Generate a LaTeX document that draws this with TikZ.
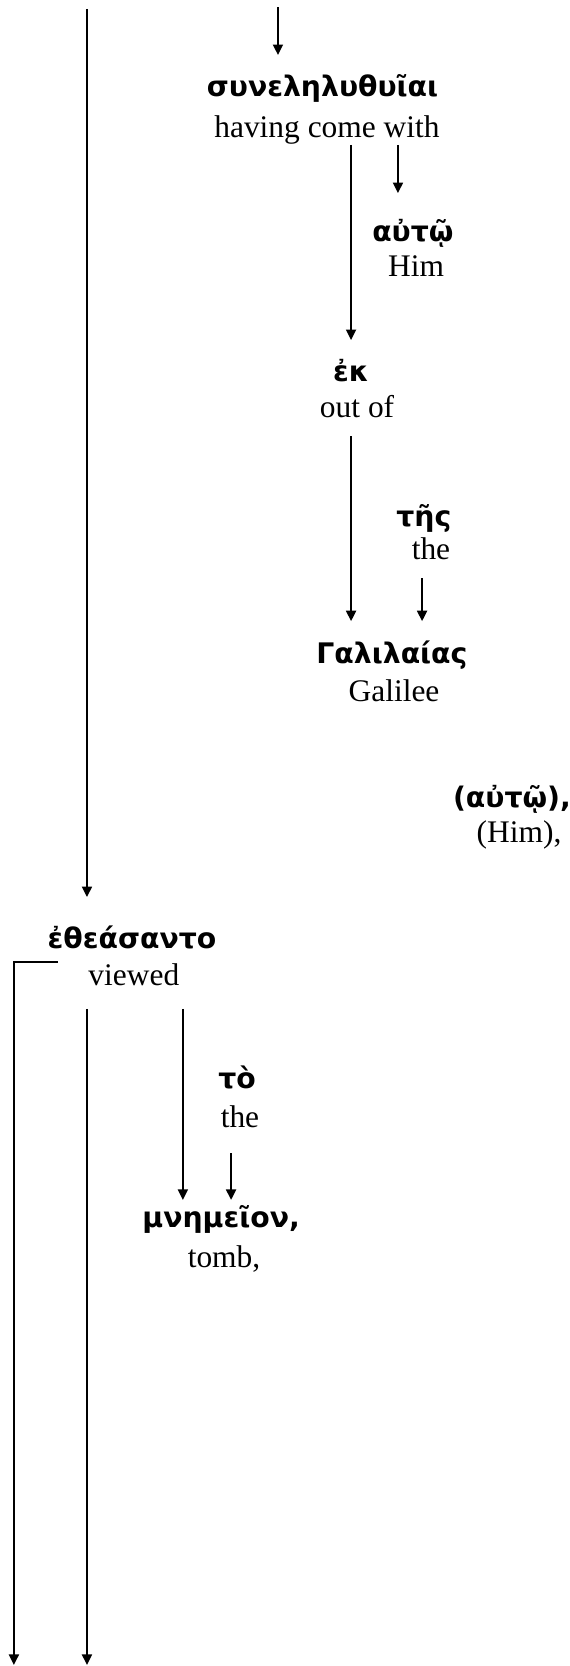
\documentclass[tikz,border=0pt]{standalone}
\usepackage{fontspec}
\setmainfont{Liberation Serif}
\newfontfamily\grkfont{DejaVu Sans}
\usetikzlibrary{arrows.meta, positioning, calc}

\begin{document}
\begin{tikzpicture}[
    x=1pt, y=1pt,
    % General node distance, centre to centre
    node distance=14pt and 0pt, on grid,
    % Styles
    greek/.style={font=\grkfont\bfseries\fontsize{10.8}{13}\selectfont, text height=8pt, text depth=3pt, inner sep=0pt, outer xsep=0pt, outer ysep=8pt},
    gloss/.style={font=\fontsize{12}{14}\selectfont, text height=8pt, text depth=3pt, inner sep=0pt, outer xsep=0pt, outer ysep=4pt},
    arrow/.style={-{Triangle[length=4pt, width=3.8pt]}, line width=0.75pt},
    link/.style={line width=0.75pt}
]
\useasboundingbox (0,0) rectangle (217.2,-635.9);

% --- Participle and its complements ---
\node[greek] (sunel) at (123.1,-34.5) {συνεληλυθυῖαι};
\node[gloss, below right = 15.3pt and 1.7pt of sunel] (sunel_en) {having come with};

\node[greek, below right = 39.7pt and 32.8pt of sunel_en] (aut) {αὐτῷ};
\node[gloss, below right = 13.7pt and 1.2pt of aut] (aut_en) {Him};

\node[greek, below right = 93.5pt and 9.2pt of sunel_en] (ek) {ἐκ};
\node[gloss, below right = 13.7pt and 2.3pt of ek] (ek_en) {out of};

\node[greek, below right = 41.6pt and 25.5pt of ek_en] (tes) {τῆς};
\node[gloss, below right = 12.6pt and 2.7pt of tes] (tes_en) {the};

\node[greek, below right = 93.6pt and 13.3pt of ek_en] (galil) {Γαλιλαίας};
\node[gloss, below right = 14.8pt and 0.8pt of galil] (galil_en) {Galilee};

\node[greek, below right = 40.5pt and 45pt of galil_en] (aut_two) {(αὐτῷ),};
\node[gloss, below right = 13pt and 2.7pt of aut_two] (aut_two_en) {(Him),};

% --- Main verb and its object ---
\node[greek, below left = 325.2pt and 72.7pt of sunel] (etheas) {ἐθεάσαντο};
\node[gloss, below right = 13.8pt and 0.7pt of etheas] (etheas_en) {viewed};

\node[greek, below right = 39.6pt and 39.4pt of etheas_en] (to) {τὸ};
\node[gloss, below right = 14.6pt and 1.1pt of to] (to_en) {the};

\node[greek, below right = 92.7pt and 33.3pt of etheas_en] (mnem) {μνημεῖον,};
\node[gloss, below right = 14.9pt and 1.1pt of mnem] (mnem_en) {tomb,};

% --- Free ends at the top and bottom edges ---
\coordinate (top_in) at (106.1,-2.7);
\coordinate (left_in) at (33.2,-3.4);
\coordinate (bot_far) at (5.3,-635.5);
\coordinate (bot_near) at (33.2,-635.5);

% --- Connectors ---
\draw[arrow] (top_in) -- (top_in |- sunel.north);
\draw[arrow, shorten >=3.8pt] (left_in) -- (left_in |- etheas.north);

\draw[arrow, shorten <=-4pt] (sunel_en.south -| ek.north) -- (ek.north);
\draw[arrow, shorten <=-4pt, shorten >=2.3pt] ($(sunel_en.south)+(27.1pt,0)$) -- ($(aut.north)+(-5.7pt,0)$);

\draw[arrow] ($(ek_en.south)+(-2.3pt,0)$) -- ($(galil.north)+(-15.6pt,0)$);
\draw[arrow] ($(tes_en.south)+(-3.4pt,0)$) -- ($(galil.north)+(11.5pt,0)$);

\draw[arrow] ($(etheas.base west)+(3.8pt,-5pt)$) -| (bot_far);
\draw[arrow, shorten <=2.1pt] (etheas_en.south -| bot_near) -- (bot_near);
\draw[arrow, shorten <=2.1pt, shorten >=-5.3pt] ($(etheas_en.south)+(18.7pt,0)$) -- ($(mnem.north)+(-14.6pt,0)$);
\draw[arrow, shorten <=3pt, shorten >=-5.3pt] ($(to_en.south)+(-3.4pt,0)$) -- ($(mnem.north)+(3.8pt,0)$);

\end{tikzpicture}
\end{document}
